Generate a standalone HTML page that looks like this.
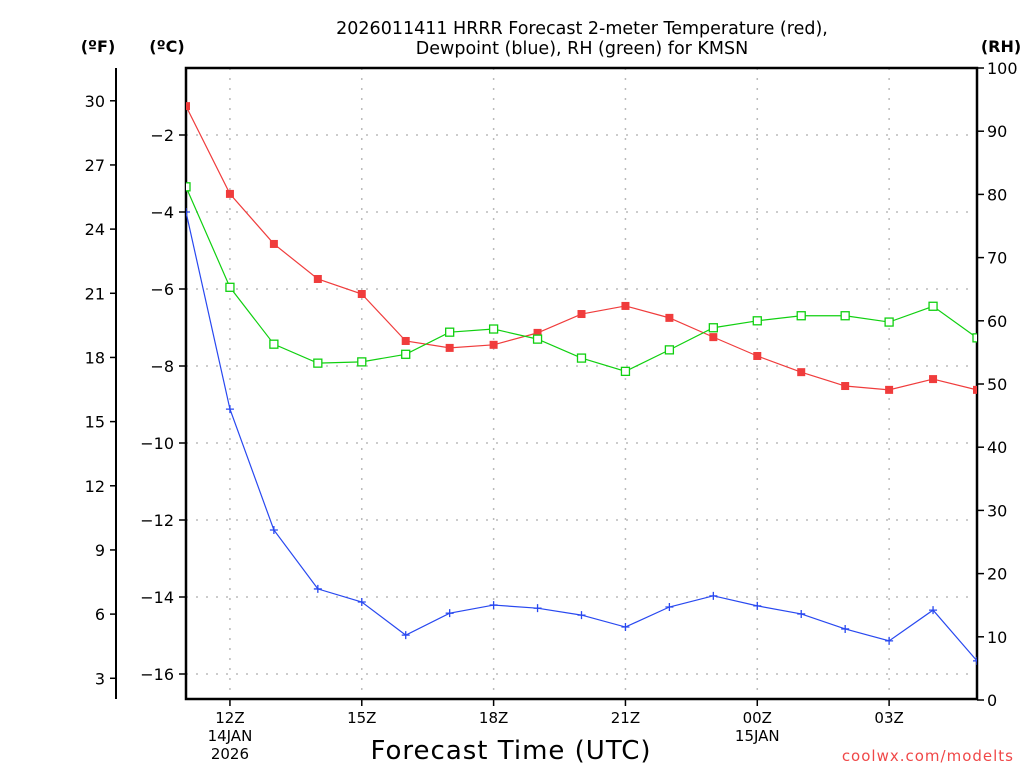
<!DOCTYPE html>
<html><head><meta charset="utf-8"><style>
body{margin:0;background:#fff;}
svg{display:block;font-family:"DejaVu Sans","Liberation Sans",sans-serif;}
</style></head><body>
<svg id="chart" width="1024" height="768" xmlns="http://www.w3.org/2000/svg">
<text x="582" y="34" font-size="17.5" text-anchor="middle">2026011411 HRRR Forecast 2-meter Temperature (red),</text>
<text x="582" y="54" font-size="17.5" text-anchor="middle">Dewpoint (blue), RH (green) for KMSN</text>
<text x="98" y="52" font-size="16" font-weight="bold" text-anchor="middle">(ºF)</text>
<text x="167" y="52" font-size="16" font-weight="bold" text-anchor="middle">(ºC)</text>
<text x="1001" y="52" font-size="16" font-weight="bold" text-anchor="middle">(RH)</text>
<text x="511" y="759" font-size="26" text-anchor="middle" letter-spacing="1">Forecast Time (UTC)</text>
<text x="1014" y="761" font-size="15" fill="#f04848" text-anchor="end" letter-spacing="1">coolwx.com/modelts</text>
<g id="grid"></g><g id="axes"></g><g id="series"></g>
</svg>
<script>
const hours = [11,12,13,14,15,16,17,18,19,20,21,22,23,24,25,26,27,28,29];
const tempC = [-1.25,-3.53,-4.83,-5.74,-6.13,-7.35,-7.53,-7.45,-7.14,-6.65,-6.44,-6.75,-7.25,-7.74,-8.16,-8.52,-8.62,-8.34,-8.62];
const dewC = [-4.0,-9.12,-12.26,-13.79,-14.13,-14.99,-14.42,-14.21,-14.29,-14.47,-14.78,-14.26,-13.97,-14.23,-14.44,-14.83,-15.14,-14.34,-15.66];
const rh = [81.2,65.3,56.3,53.3,53.5,54.7,58.2,58.7,57.1,54.1,52.0,55.4,58.9,60.0,60.8,60.8,59.8,62.3,57.3];
const cTicks = [-2,-4,-6,-8,-10,-12,-14,-16];
const fTicks = [30,27,24,21,18,15,12,9,6,3];
const rhTicks = [0,10,20,30,40,50,60,70,80,90,100];
const xTickHours = [12,15,18,21,24,27];
const xTickLabels = ["12Z","15Z","18Z","21Z","00Z","03Z"];
const xTickSub = {12:["14JAN","2026"],24:["15JAN"]};

const L=186,R=977,T=68,B=699;
const xs=h=>L+(h-11)*(R-L)/18;
const yc=c=>135+(-2-c)*38.5;
const yf=f=>yc((f-32)*5/9);
const yr=v=>700-v*6.32;
const NS='http://www.w3.org/2000/svg';
function mk(tag,attrs,parent,text){const e=document.createElementNS(NS,tag);for(const k in attrs)e.setAttribute(k,attrs[k]);if(text!==undefined)e.textContent=text;parent.appendChild(e);return e;}
const grid=document.getElementById('grid'),axes=document.getElementById('axes'),ser=document.getElementById('series');
const dash={stroke:'#bbb','stroke-width':1.5,'stroke-dasharray':'2,8'};
xTickHours.forEach((h,i)=>{
 const g=mk('line',Object.assign({x1:xs(h),x2:xs(h),y1:T,y2:B},dash),grid);
 
 
 const t=mk('line',{x1:xs(h),x2:xs(h),y1:B,y2:B+7,stroke:'#000','stroke-width':1.5},axes);
 
 
 const lb=mk('text',{x:xs(h),y:B+24,'font-size':15,'text-anchor':'middle'},axes,xTickLabels[i]);
 
 
 (xTickSub[h]||[]).forEach((s,j)=>{
  const sl=mk('text',{x:xs(h),y:B+42+j*18,'font-size':15,'text-anchor':'middle'},axes,s);
  
  
 });
});
cTicks.forEach(c=>{
 const g=mk('line',Object.assign({x1:L,x2:R,y1:yc(c),y2:yc(c)},dash),grid);
 
 
 const t=mk('line',{x1:L-7,x2:L,y1:yc(c),y2:yc(c),stroke:'#000','stroke-width':1.5},axes);
 
 
 const lb=mk('text',{x:L-12,y:yc(c)+6,'font-size':16,'text-anchor':'end'},axes,c<0?'\u2212'+(-c):String(c));
 
 
});
const fa=mk('line',{x1:116,x2:116,y1:T,y2:B,stroke:'#000','stroke-width':2},axes);


fTicks.forEach(f=>{
 const t=mk('line',{x1:110,x2:116,y1:yf(f),y2:yf(f),stroke:'#000','stroke-width':1.5},axes);
 
 
 const lb=mk('text',{x:105,y:yf(f)+6,'font-size':16,'text-anchor':'end'},axes,String(f));
 
 
});
rhTicks.forEach(v=>{
 const t=mk('line',{x1:R,x2:R+7,y1:yr(v),y2:yr(v),stroke:'#000','stroke-width':1.5},axes);
 
 
 const lb=mk('text',{x:R+10,y:yr(v)+6,'font-size':16},axes,String(v));
 
 
});
const box=mk('rect',{x:L,y:T,width:R-L,height:B-T,fill:'none',stroke:'#000','stroke-width':2.5},axes);


const clip=mk('clipPath',{id:'pc'},ser);mk('rect',{x:L,y:T,width:R-L,height:B-T},clip);
const sg=mk('g',{'clip-path':'url(#pc)'},ser);
function line(vals,fy,color,name){
 const p=mk('polyline',{points:vals.map((v,i)=>xs(hours[i])+','+fy(v)).join(' '),fill:'none',stroke:color,'stroke-width':1.2},sg);
 
 
}
line(tempC,yc,'#f03c3c','temperature');
line(rh,yr,'#10d010','rh');
line(dewC,yc,'#2848f0','dewpoint');
tempC.forEach((v,i)=>{const m=mk('rect',{x:xs(hours[i])-4,y:yc(v)-4,width:8,height:8,fill:'#f03c3c'},sg);
 
 });
rh.forEach((v,i)=>{const m=mk('rect',{x:xs(hours[i])-4,y:yr(v)-4,width:8,height:8,fill:'#fff',stroke:'#10d010','stroke-width':1.3},sg);
 
 });
dewC.forEach((v,i)=>{const x=xs(hours[i]),y=yc(v);
 const m=mk('path',{d:`M${x-4},${y}H${x+4}M${x},${y-4}V${y+4}`,stroke:'#2848f0','stroke-width':1.3},sg);
 
 });
</script>
</body></html>
